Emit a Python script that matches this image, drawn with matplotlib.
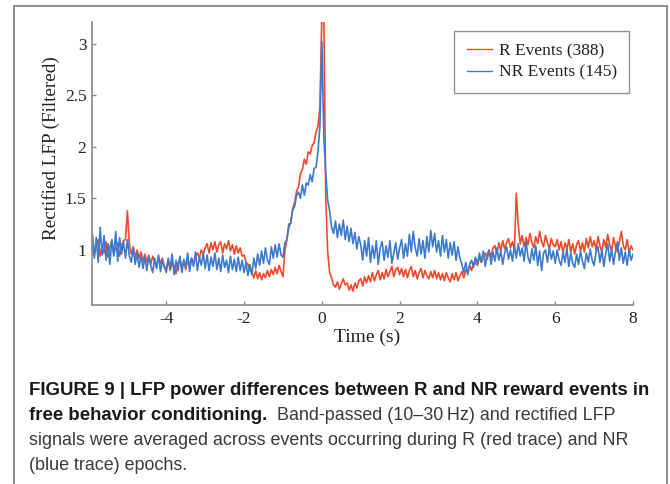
import numpy as np
import matplotlib
matplotlib.use("Agg")
import matplotlib.pyplot as plt
from matplotlib.patches import Rectangle

# ---------------- data (0.05 s sampling, -5.9 .. 8.0 s) -------------
t_start, t_end = -5.9, 8.0

r_events = [
    # -5.90 .. -5.05
    1.08, 0.95, 1.05, 1.10, 0.94, 1.04, 0.97, 1.08, 0.93, 1.03, 1.09, 0.96, 1.02, 1.07, 0.94, 1.04, 1.09, 1.10,
    # -5.0 .. -4.05
    1.38, 1.06, 0.96, 1.03, 0.93, 1.00, 0.92, 0.98, 0.89, 0.96, 0.88, 0.95, 0.86, 0.94, 0.89, 0.84, 0.93, 0.87, 0.92, 0.83,
    # -4.0 .. -3.05
    0.82, 0.90, 0.80, 0.88, 0.84, 0.77, 0.87, 0.91, 0.82, 0.89, 0.81, 0.90, 0.85, 0.92, 0.86, 0.94, 0.97, 0.92, 1.00, 0.96,
    # -3.0 .. -2.05
    1.02, 1.06, 0.97, 1.07, 1.00, 1.08, 0.98, 1.05, 1.08, 0.97, 1.06, 1.01, 1.09, 0.99, 1.05, 0.96, 1.04, 0.97, 1.02, 0.94,
    # -2.0 .. -1.05
    0.95, 0.88, 0.86, 0.80, 0.79, 0.73, 0.80, 0.72, 0.78, 0.71, 0.77, 0.73, 0.80, 0.74, 0.81, 0.76, 0.83, 0.77, 0.85, 0.79,
    # -1.0 .. -0.05
    0.74, 1.00, 1.10, 1.22, 1.26, 1.40, 1.46, 1.57, 1.61, 1.74, 1.78, 1.88, 1.83, 1.95, 1.93, 2.01, 2.04, 2.14, 2.20, 2.38,
    # 0.0 .. 0.95
    3.30, 3.30, 1.50, 0.98, 0.78, 0.73, 0.66, 0.64, 0.69, 0.62, 0.67, 0.72, 0.66, 0.68, 0.61, 0.66, 0.60, 0.68, 0.63, 0.70,
    # 1.0 .. 1.95
    0.72, 0.65, 0.74, 0.68, 0.75, 0.69, 0.78, 0.70, 0.76, 0.80, 0.71, 0.78, 0.72, 0.81, 0.74, 0.79, 0.84, 0.74, 0.81, 0.83,
    # 2.0 .. 2.95
    0.76, 0.82, 0.74, 0.81, 0.73, 0.80, 0.84, 0.74, 0.80, 0.72, 0.78, 0.82, 0.73, 0.80, 0.75, 0.72, 0.79, 0.73, 0.80, 0.72,
    # 3.0 .. 3.95
    0.78, 0.71, 0.77, 0.70, 0.78, 0.73, 0.69, 0.77, 0.71, 0.78, 0.70, 0.75, 0.79, 0.73, 0.80, 0.79, 0.85, 0.80, 0.88, 0.87,
    # 4.0 .. 4.95
    0.85, 0.93, 0.88, 0.95, 0.97, 0.91, 0.99, 0.93, 1.02, 1.04, 0.96, 1.07, 0.99, 1.09, 1.01, 1.07, 1.11, 1.02, 1.08, 1.00,
    # 5.0 .. 5.95
    1.55, 1.24, 1.06, 1.14, 1.03, 1.12, 1.05, 1.16, 1.07, 1.02, 1.13, 1.06, 1.18, 1.08, 1.03, 1.14, 1.07, 1.01, 1.11, 1.05,
    # 6.0 .. 6.95
    1.03, 1.10, 1.00, 1.08, 0.97, 1.07, 1.01, 1.10, 0.98, 1.06, 0.96, 1.05, 1.09, 0.99, 1.07, 0.98, 1.11, 1.02, 1.13, 1.03,
    # 7.0 .. 7.95
    1.09, 1.00, 1.13, 1.04, 0.98, 1.10, 1.02, 1.15, 1.05, 0.99, 1.12, 1.03, 0.98, 1.08, 1.18, 1.04, 1.00, 1.10, 0.97, 1.04,
    # 8.0
    1.00,
]

nr_events = [
    # -5.90 .. -5.05
    1.16, 0.92, 1.12, 0.88, 1.22, 0.95, 1.14, 0.90, 1.06, 0.86, 1.10, 0.94, 1.18, 0.89, 1.12, 0.96, 1.08, 0.92,
    # -5.0 .. -4.05
    1.10, 0.94, 0.88, 1.02, 0.86, 0.97, 0.83, 0.95, 0.82, 0.93, 0.80, 0.94, 0.85, 0.78, 0.92, 0.82, 0.95, 0.79, 0.90, 0.84,
    # -4.0 .. -3.05
    0.78, 0.92, 0.82, 0.96, 0.76, 0.90, 0.80, 0.94, 0.78, 0.91, 0.83, 0.97, 0.79, 0.92, 0.84, 0.98, 0.80, 0.93, 0.85, 0.97,
    # -3.0 .. -2.05
    0.82, 0.95, 0.80, 0.93, 0.84, 0.97, 0.81, 0.92, 0.79, 0.95, 0.83, 0.90, 0.78, 0.94, 0.81, 0.91, 0.79, 0.93, 0.80, 0.90,
    # -2.0 .. -1.05
    0.78, 0.88, 0.75, 0.86, 0.76, 0.92, 0.82, 0.96, 0.85, 0.99, 0.87, 1.02, 0.90, 0.86, 1.03, 0.92, 1.05, 0.93, 1.06, 0.95,
    # -1.0 .. -0.05
    0.93, 1.07, 1.10, 1.25, 1.26, 1.39, 1.42, 1.53, 1.56, 1.50, 1.63, 1.53, 1.65, 1.63, 1.73, 1.66, 1.79, 1.80, 1.95, 2.20,
    # 0.0 .. 0.95
    3.02, 2.10, 1.75, 1.48, 1.38, 1.22, 1.16, 1.28, 1.12, 1.25, 1.14, 1.29, 1.10, 1.23, 1.08, 1.21, 1.06, 1.17, 1.01, 1.13,
    # 1.0 .. 1.95
    1.05, 0.90, 1.09, 0.94, 1.12, 0.88, 1.04, 0.92, 1.09, 0.86, 1.02, 1.08, 0.90, 1.04, 0.93, 1.09, 0.87, 0.97, 1.07, 0.91,
    # 2.0 .. 2.95
    1.02, 1.10, 0.92, 1.06, 0.94, 1.15, 0.98, 1.18, 1.02, 0.94, 1.11, 0.96, 1.09, 0.92, 1.13, 0.98, 1.19, 1.03, 1.16, 0.98,
    # 3.0 .. 3.95
    1.09, 0.94, 1.14, 0.98, 1.10, 0.92, 1.07, 0.95, 1.08, 0.90, 1.03, 0.92, 0.86, 0.78, 0.88, 0.76, 0.86, 0.90, 0.83, 0.93,
    # 4.0 .. 4.95
    0.86, 0.97, 0.88, 0.99, 0.84, 0.96, 1.00, 0.86, 0.98, 0.89, 1.02, 0.90, 0.99, 0.86, 0.97, 1.03, 0.91, 1.00, 0.89, 1.04,
    # 5.0 .. 5.95
    0.92, 1.06, 0.94, 1.02, 0.89, 1.08, 0.93, 0.87, 1.01, 0.90, 1.04, 0.85, 0.99, 0.80, 0.97, 1.00, 0.88, 1.02, 0.91, 0.99,
    # 6.0 .. 6.95
    0.87, 1.00, 0.90, 0.85, 0.98, 0.88, 1.02, 0.84, 0.97, 0.87, 0.83, 0.96, 0.86, 0.99, 0.89, 0.82, 0.97, 0.88, 1.01, 0.90,
    # 7.0 .. 7.95
    0.85, 0.98, 1.03, 0.88, 1.00, 0.84, 0.97, 1.06, 0.89, 1.01, 0.86, 0.99, 1.08, 0.90, 1.02, 0.87, 0.98, 0.85, 1.00, 0.90,
    # 8.0
    0.96,
]

series_labels = ["R Events (388)", "NR Events (145)"]
x_ticks = [-4, -2, 0, 2, 4, 6, 8]
y_ticks = [1, 1.5, 2, 2.5, 3]
y_tick_labels = ["1", "1.5", "2", "2.5", "3"]
x_label = "Time (s)"
y_label = "Rectified LFP (Filtered)"
caption_bold_1 = "FIGURE 9 | LFP power differences between R and NR reward events in"
caption_bold_2 = "free behavior conditioning."
caption_reg_2 = "  Band-passed (10\u201330\u2009Hz) and rectified LFP"
caption_reg_3 = "signals were averaged across events occurring during R (red trace) and NR"
caption_reg_4 = "(blue trace) epochs."

# ---------------- figure -------------
W, H = 670, 484
fig = plt.figure(figsize=(W / 100, H / 100), dpi=100)
fig.patch.set_facecolor("white")

serif = ["Liberation Serif", "DejaVu Serif"]
sans = ["Liberation Sans", "DejaVu Sans"]

ax_l, ax_r, ax_t, ax_b = 92, 633, 22, 305
ax = fig.add_axes([ax_l / W, 1 - ax_b / H, (ax_r - ax_l) / W, (ax_b - ax_t) / H])

t_r = np.linspace(t_start, t_end, len(r_events))
t_nr = np.linspace(t_start, t_end, len(nr_events))
red = "#ee4a2b"
blue = "#3c7bcb"
ax.plot(t_r, r_events, color=red, lw=1.2, label=series_labels[0])
ax.plot(t_nr, nr_events, color=blue, lw=1.2, label=series_labels[1])

ax.set_xlim(-5.91, 8.0)
ax.set_ylim(0.466, 3.21)
for s in ["top", "right"]:
    ax.spines[s].set_visible(False)
for s in ["left", "bottom"]:
    ax.spines[s].set_color("#8a8a8a")
    ax.spines[s].set_linewidth(1.2)

ax.set_xticks(x_ticks)
ax.set_xticklabels([str(v) for v in x_ticks], family=serif, fontsize=12.5)
ax.set_yticks(y_ticks)
ax.set_yticklabels(y_tick_labels, family=serif, fontsize=12.5)
ax.tick_params(axis="both", direction="in", length=3, width=1, color="#8a8a8a", pad=4, labelcolor="#222222")

ax.set_xlabel(x_label, family=serif, fontsize=14, color="#222222")
ax.xaxis.set_label_coords((367 - ax_l) / (ax_r - ax_l), -(329 - ax_b) / (ax_b - ax_t))
ax.set_ylabel(y_label, family=serif, fontsize=13.8, color="#222222")
ax.yaxis.set_label_coords((60 - ax_l) / (ax_r - ax_l), (ax_b - 148) / (ax_b - ax_t))

leg = ax.legend(loc="upper right", bbox_to_anchor=((629 - ax_l) / (ax_r - ax_l), (ax_b - 31) / (ax_b - ax_t)),
                borderaxespad=0, fancybox=False, frameon=True, handlelength=1.45, handletextpad=0.4,
                borderpad=0.7, labelspacing=0.3, prop={"family": serif, "size": 12.5})
leg.get_frame().set_edgecolor("#777777")
leg.get_frame().set_linewidth(1.0)
for line in leg.get_lines():
    line.set_linewidth(1.0)
for txt in leg.get_texts():
    txt.set_color("#222222")

# outer frame
fig.add_artist(Rectangle((14 / W, -0.05), (667 - 14) / W, 1.05 - 6 / H, transform=fig.transFigure,
                         fill=False, edgecolor="#7a7a7a", lw=1.2))

# caption
cx = 29 / W
t1 = fig.text(cx, 1 - 395 / H, caption_bold_1, family=sans, fontsize=13.4, weight="bold", va="baseline", color="#1a1a1a")
t2 = fig.text(cx, 1 - 420 / H, caption_bold_2, family=sans, fontsize=13.4, weight="bold", va="baseline", color="#1a1a1a")
fig.canvas.draw()
bb = t2.get_window_extent(renderer=fig.canvas.get_renderer())
fig.text(bb.x1 / W, 1 - 420 / H, caption_reg_2, family=sans, fontsize=12.9, va="baseline", color="#3a3a3a")
fig.text(cx, 1 - 445 / H, caption_reg_3, family=sans, fontsize=12.9, va="baseline", color="#3a3a3a")
fig.text(cx, 1 - 470 / H, caption_reg_4, family=sans, fontsize=12.9, va="baseline", color="#3a3a3a")

fig.savefig("out.png", dpi=100, facecolor="white")
